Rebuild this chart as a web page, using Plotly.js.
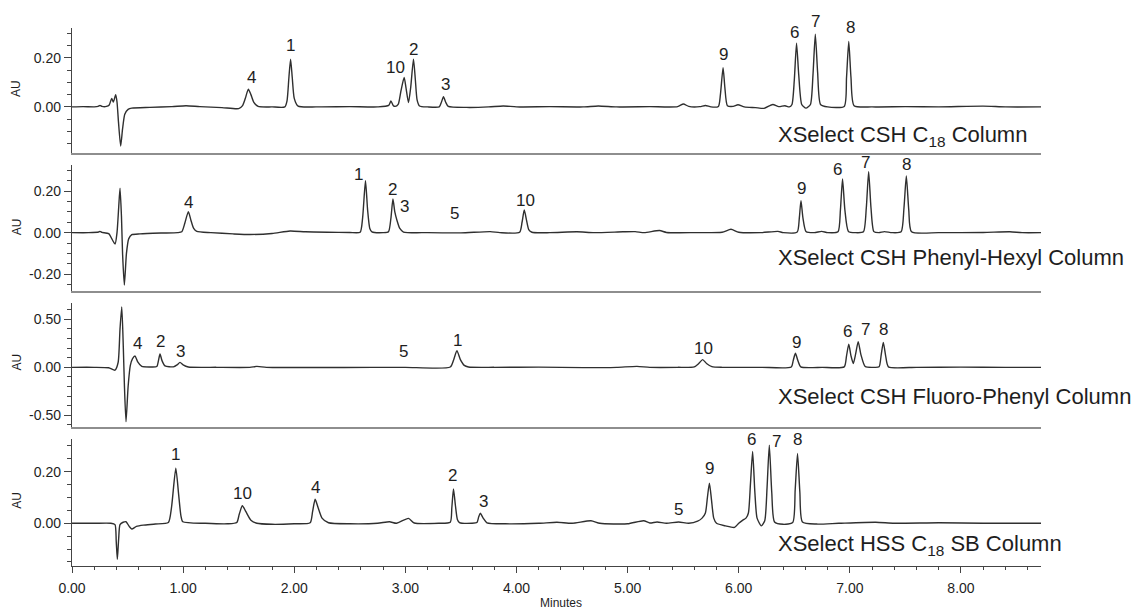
<!DOCTYPE html>
<html>
<head>
<meta charset="utf-8">
<script src="https://cdn.plot.ly/plotly-3.0.1.min.js"></script>
<style>html,body{margin:0;padding:0;background:#fff;}#chart{width:1146px;height:609px;}</style>
</head>
<body>
<div id="chart"></div>
<script>
// ---------- DATA (minutes, AU) ----------
const c18Time = [0.00,0.10,0.20,0.235,0.252,0.27,0.31,0.335,0.357,0.372,0.393,0.405,0.418,0.438,0.455,0.475,0.505,0.538,0.70,0.90,1.026,1.15,1.35,1.50,1.535,1.56,1.587,1.61,1.635,1.675,1.80,1.915,1.935,1.952,1.967,1.982,2.000,2.035,2.20,2.50,2.75,2.85,2.870,2.890,2.908,2.935,2.960,2.989,3.005,3.028,3.048,3.073,3.090,3.105,3.127,3.20,3.305,3.325,3.343,3.362,3.386,3.55,3.75,3.881,4.00,4.30,4.60,4.736,4.90,5.20,5.45,5.502,5.55,5.65,5.70,5.75,5.817,5.835,5.859,5.875,5.898,5.95,5.993,6.05,6.15,6.228,6.306,6.36,6.416,6.455,6.479,6.50,6.52,6.54,6.567,6.605,6.645,6.668,6.689,6.710,6.736,6.80,6.949,6.970,6.990,7.010,7.038,7.20,7.50,7.80,8.20,8.40,8.72];
const c18AU   = [0.000,0.001,0.000,0.002,0.006,0.002,0.002,0.008,0.035,0.020,0.050,0.020,-0.060,-0.160,-0.090,-0.030,-0.010,-0.005,-0.002,0.001,0.005,0.001,-0.003,-0.007,0.005,0.035,0.072,0.050,0.020,0.002,0.000,0.000,0.025,0.120,0.195,0.120,0.035,0.003,0.000,0.001,0.000,0.006,0.024,0.006,0.002,0.010,0.065,0.120,0.080,0.018,0.080,0.195,0.110,0.030,0.004,0.000,0.000,0.020,0.042,0.020,0.002,-0.002,0.000,0.004,0.000,0.001,0.000,0.004,0.000,0.001,0.001,0.012,0.002,0.001,0.006,0.000,0.002,0.050,0.160,0.080,0.005,0.002,0.009,0.000,-0.003,-0.006,0.010,0.001,0.005,0.000,0.010,0.110,0.260,0.130,0.010,-0.005,0.010,0.130,0.297,0.140,0.010,0.000,0.002,0.120,0.267,0.120,0.005,0.000,0.001,0.000,0.003,0.000,0.000];

const phTime = [0.00,0.15,0.24,0.252,0.27,0.33,0.387,0.405,0.420,0.432,0.445,0.455,0.471,0.490,0.510,0.538,0.612,0.80,0.95,0.988,1.015,1.047,1.070,1.095,1.123,1.25,1.45,1.603,1.80,1.963,2.10,2.30,2.50,2.593,2.615,2.641,2.660,2.680,2.699,2.80,2.848,2.870,2.888,2.905,2.924,2.950,2.983,3.20,3.50,3.764,3.85,4.028,4.050,4.070,4.090,4.110,4.139,4.30,4.544,4.70,4.958,5.068,5.15,5.287,5.35,5.60,5.85,5.930,6.00,6.20,6.353,6.40,6.526,6.545,6.560,6.578,6.605,6.68,6.746,6.80,6.893,6.915,6.934,6.955,6.987,7.05,7.122,7.148,7.169,7.190,7.216,7.26,7.311,7.38,7.461,7.487,7.508,7.530,7.555,7.80,8.20,8.44,8.55,8.72];
const phAU   = [0.000,0.000,0.003,0.006,0.001,-0.005,-0.055,0.000,0.120,0.214,0.080,-0.100,-0.252,-0.100,-0.030,-0.010,-0.006,-0.002,0.000,0.004,0.045,0.101,0.060,0.020,0.006,0.000,-0.006,-0.009,-0.004,0.008,0.004,0.002,0.001,0.002,0.070,0.250,0.110,0.020,0.004,0.000,0.004,0.070,0.162,0.100,0.060,0.020,0.003,0.000,-0.001,0.005,0.000,0.002,0.050,0.109,0.060,0.015,0.002,0.000,0.004,0.000,0.004,0.005,0.000,0.010,0.001,0.000,0.002,0.016,0.002,0.000,0.006,0.000,0.003,0.070,0.154,0.070,0.006,0.000,0.006,0.000,0.004,0.110,0.259,0.110,0.006,0.000,0.004,0.120,0.294,0.120,0.005,0.000,0.005,0.000,0.004,0.120,0.273,0.110,0.004,0.000,0.001,0.004,0.000,0.000];

const fpTime = [0.00,0.20,0.33,0.387,0.415,0.432,0.448,0.462,0.472,0.486,0.505,0.525,0.545,0.567,0.590,0.628,0.700,0.763,0.778,0.792,0.810,0.837,0.912,0.945,0.972,1.000,1.047,1.30,1.60,1.663,1.75,2.20,2.70,3.00,3.404,3.435,3.464,3.495,3.530,3.568,3.80,4.20,4.60,4.90,5.084,5.20,5.45,5.600,5.640,5.675,5.710,5.758,5.85,6.20,6.473,6.490,6.510,6.532,6.558,6.75,6.949,6.970,6.990,7.010,7.031,7.052,7.075,7.100,7.138,7.22,7.263,7.282,7.301,7.322,7.347,7.60,8.00,8.40,8.72];
const fpAU   = [0.000,0.000,-0.005,-0.030,0.050,0.400,0.630,0.200,-0.200,-0.567,-0.200,0.020,0.090,0.118,0.060,0.010,0.004,0.008,0.070,0.139,0.070,0.015,0.005,0.025,0.052,0.025,0.003,0.000,0.000,0.010,0.000,-0.002,0.000,0.000,0.003,0.080,0.173,0.080,0.020,0.003,0.000,0.002,-0.003,0.000,0.010,0.000,0.000,0.005,0.040,0.080,0.040,0.008,0.000,0.000,0.003,0.070,0.146,0.070,0.005,0.000,0.005,0.120,0.240,0.120,0.040,0.140,0.267,0.130,0.008,0.000,0.005,0.130,0.260,0.120,0.005,0.000,0.002,0.000,0.000];

const hssTime = [0.00,0.20,0.35,0.387,0.398,0.408,0.420,0.432,0.460,0.486,0.515,0.538,0.580,0.642,0.75,0.867,0.895,0.934,0.960,0.980,0.997,1.20,1.40,1.483,1.505,1.533,1.565,1.610,1.663,1.80,2.00,2.143,2.165,2.188,2.215,2.250,2.308,2.50,2.75,2.857,2.92,3.028,3.08,3.30,3.404,3.418,3.433,3.450,3.468,3.487,3.60,3.644,3.660,3.674,3.700,3.734,3.90,4.20,4.364,4.50,4.670,4.75,5.00,5.144,5.20,5.265,5.35,5.459,5.55,5.63,5.670,5.700,5.718,5.736,5.755,5.775,5.800,5.880,5.962,6.000,6.040,6.065,6.087,6.105,6.125,6.145,6.165,6.203,6.234,6.255,6.275,6.297,6.322,6.40,6.486,6.508,6.529,6.550,6.573,6.70,6.90,7.232,7.40,7.80,8.20,8.72];
const hssAU   = [0.000,0.000,0.000,-0.005,-0.070,-0.140,-0.060,-0.005,0.004,0.006,-0.012,-0.022,-0.012,-0.007,-0.003,0.003,0.060,0.213,0.110,0.030,0.006,0.000,-0.002,0.003,0.035,0.068,0.045,0.012,0.000,-0.004,-0.002,0.002,0.045,0.093,0.060,0.020,0.002,-0.002,0.000,0.006,0.000,0.019,0.001,0.000,0.004,0.060,0.133,0.070,0.015,0.003,0.000,0.003,0.025,0.039,0.020,0.002,-0.002,0.000,0.004,0.000,0.010,0.000,-0.002,0.010,0.001,0.005,0.000,0.005,0.000,0.008,0.020,0.040,0.100,0.155,0.090,0.020,0.000,-0.010,-0.016,0.000,0.013,0.020,0.040,0.150,0.278,0.120,0.020,-0.010,0.010,0.140,0.303,0.120,0.005,-0.004,0.003,0.130,0.271,0.120,0.005,-0.003,0.000,0.004,0.000,0.002,0.000,0.000];

// peak labels (text, minutes, AU of label centre)
const c18LabelText = ['4','1','10','2','3','9','6','7','8'];
const c18LabelTime = [1.618,1.963,2.908,3.073,3.365,5.859,6.501,6.689,7.005];
const c18LabelAU   = [0.119,0.249,0.160,0.235,0.090,0.212,0.305,0.348,0.325];

const phLabelText = ['4','1','2','3','5','10','9','6','7','8'];
const phLabelTime = [1.047,2.578,2.888,2.989,3.440,4.079,6.564,6.890,7.144,7.514];
const phLabelAU   = [0.145,0.281,0.209,0.125,0.094,0.154,0.214,0.306,0.337,0.326];

const fpLabelText = ['4','2','3','5','1','10','9','6','7','8'];
const fpLabelTime = [0.588,0.799,0.972,2.983,3.469,5.685,6.516,6.975,7.137,7.300];
const fpLabelAU   = [0.250,0.267,0.163,0.163,0.277,0.198,0.256,0.371,0.396,0.389];

const hssLabelText = ['1','10','4','2','3','5','9','6','7','8'];
const hssLabelTime = [0.934,1.533,2.188,3.428,3.703,5.459,5.736,6.112,6.344,6.533];
const hssLabelAU   = [0.265,0.116,0.140,0.187,0.084,0.052,0.213,0.326,0.316,0.326];

const columnNames = ['XSelect CSH C<sub>18</sub> Column','XSelect CSH Phenyl-Hexyl Column','XSelect CSH Fluoro-Phenyl Column','XSelect HSS C<sub>18</sub> SB Column'];

// tick labels
const xTickVals = [0,1,2,3,4,5,6,7,8];
const xTickText = ['0.00','1.00','2.00','3.00','4.00','5.00','6.00','7.00','8.00'];
const yTickVals1 = [0,0.2];        const yTickText1 = ['0.00','0.20'];
const yTickVals2 = [-0.2,0,0.2];   const yTickText2 = ['-0.20','0.00','0.20'];
const yTickVals3 = [-0.5,0,0.5];   const yTickText3 = ['-0.50','0.00','0.50'];
const yTickVals4 = [0,0.2];        const yTickText4 = ['0.00','0.20'];

// ---------- CHART ----------
const FONT = 'Liberation Sans, Arial, Helvetica, sans-serif';
const INK = '#1e1e1e';
const lineStyle = {color:'#2f2f2f', width:1.4, shape:'spline', smoothing:0.6};

const series = [[c18Time,c18AU],[phTime,phAU],[fpTime,fpAU],[hssTime,hssAU]];
const traces = series.map((s,i)=>({
  x:s[0], y:s[1], type:'scatter', mode:'lines', line:lineStyle,
  xaxis: i===0?'x':'x'+(i+1), yaxis: i===0?'y':'y'+(i+1),
  hoverinfo:'skip', showlegend:false
}));

const domains = [[0.7677,1],[0.5112,0.7454],[0.2578,0.4888],[0,0.2361]];
const yRanges = [[-0.188,0.322],[-0.281,0.326],[-0.625,0.67],[-0.1655,0.3267]];
const yTicks = [[yTickVals1,yTickText1],[yTickVals2,yTickText2],[yTickVals3,yTickText3],[yTickVals4,yTickText4]];
const minorStep = [0.05,0.05,0.1,0.05];

const layout = {
  width:1146, height:609,
  margin:{l:72, r:105.4, t:28, b:43},
  paper_bgcolor:'#fff', plot_bgcolor:'#fff',
  font:{family:FONT, color:INK, size:14},
  showlegend:false,
  annotations:[]
};

for (let i=0;i<4;i++){
  const xa = i===0?'xaxis':'xaxis'+(i+1);
  const ya = i===0?'yaxis':'yaxis'+(i+1);
  const yid = i===0?'y':'y'+(i+1);
  const xid = i===0?'x':'x'+(i+1);
  const last = i===3;
  layout[xa] = {
    anchor:yid, range:[0,8.72], domain:[0,1], fixedrange:true,
    showgrid:false, zeroline:false, showline:true,
    linecolor: last?'#444':'#8e8e8e', linewidth: last?1.2:1.6,
    showticklabels:last, ticks: last?'outside':'',
    tickmode:'array', tickvals:xTickVals, ticktext:xTickText,
    ticklen:6, tickcolor:'#444', tickwidth:1,
    tickfont:{size:14, color:INK, family:FONT},
    ticklabelstandoff: 3,
    minor: last?{tickmode:'linear', tick0:0, dtick:0.2, ticks:'outside', ticklen:3, tickcolor:'#444', showgrid:false}:undefined
  };
  layout[ya] = {
    anchor:xid, domain:domains[i], range:yRanges[i], fixedrange:true,
    showgrid:false, zeroline:false, showline:true, linecolor:'#444', linewidth:1.2,
    ticks:'outside', ticklen:7, tickcolor:'#444', tickwidth:1,
    tickmode:'array', tickvals:yTicks[i][0], ticktext:yTicks[i][1],
    tickfont:{size:14, color:INK, family:FONT},
    minor:{tickmode:'linear', tick0:0, dtick:minorStep[i], ticks:'outside', ticklen:4, tickcolor:'#444', showgrid:false}
  };
}

// AU value -> paper fraction of its panel (labels may sit above a panel's top)
function toPaper(i, v){
  const d = domains[i], r = yRanges[i];
  return d[0] + (v - r[0]) / (r[1] - r[0]) * (d[1] - d[0]);
}

const labelSets = [[c18LabelText,c18LabelTime,c18LabelAU],[phLabelText,phLabelTime,phLabelAU],[fpLabelText,fpLabelTime,fpLabelAU],[hssLabelText,hssLabelTime,hssLabelAU]];
labelSets.forEach((L,i)=>{
  const xr = i===0?'x':'x'+(i+1);
  L[0].forEach((t,k)=>{
    layout.annotations.push({text:t, x:L[1][k], y:toPaper(i, L[2][k]), xref:xr, yref:'paper',
      xanchor:'center', yanchor:'middle', showarrow:false,
      font:{size:17, color:INK, family:FONT}});
  });
});

const nameY = [0.7996,0.573,0.3147,0.039];
columnNames.forEach((n,i)=>{
  layout.annotations.push({text:n, x:0.7268, y:nameY[i], xref:'paper', yref:'paper',
    xanchor:'left', yanchor:'middle', showarrow:false,
    font:{size:22, color:INK, family:FONT}});
});

const auY = [0.8879,0.6307,0.3797,0.1227];
auY.forEach(v=>{
  layout.annotations.push({text:'AU', x:-0.0571, y:v, xref:'paper', yref:'paper',
    xanchor:'center', yanchor:'middle', textangle:-90, showarrow:false,
    font:{size:12, color:INK, family:FONT}});
});

layout.annotations.push({text:'Minutes', x:0.5043, y:-0.0688, xref:'paper', yref:'paper',
  xanchor:'center', yanchor:'middle', showarrow:false, font:{size:12, color:INK, family:FONT}});

Plotly.newPlot('chart', traces, layout, {staticPlot:true, displayModeBar:false});
</script>
</body>
</html>
